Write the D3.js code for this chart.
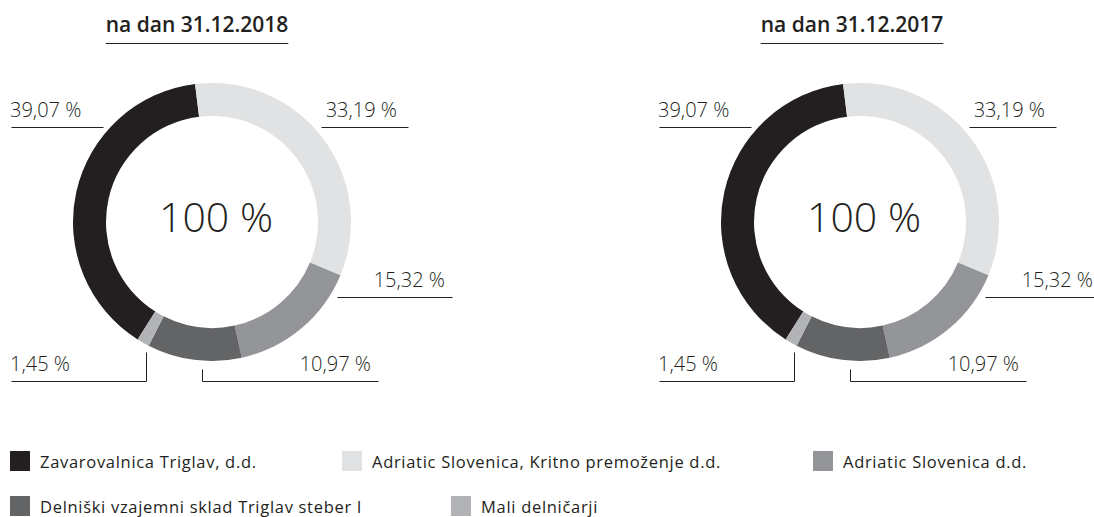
<!DOCTYPE html>
<html>
<head>
<meta charset="utf-8">
<script src="https://cdn.jsdelivr.net/npm/d3@7"></script>
<style>
  body { margin: 0; background: #fff; }
  text { font-family: "Open Sans", sans-serif; fill: #231f20; }
</style>
</head>
<body>
<script>
// data
var categories = ["Zavarovalnica Triglav, d.d.",
                  "Adriatic Slovenica, Kritno premoženje d.d.",
                  "Adriatic Slovenica d.d.",
                  "Delniški vzajemni sklad Triglav steber I",
                  "Mali delničarji"];
var shares2018 = [39.07, 33.19, 15.32, 10.97, 1.45];
var shares2017 = [39.07, 33.19, 15.32, 10.97, 1.45];
var panelTitles = ["na dan 31.12.2018", "na dan 31.12.2017"];
var totalLabel = "100 %";

var colors = ["#231f20", "#e1e2e3", "#939598", "#636466", "#b1b3b6"];

const WIDTH = 1094;
const HEIGHT = 517;
const OUTER = 139;
const INNER = 106;
const CY = 222;
const GAP = 8;

var panels = [
  {title: panelTitles[0], values: shares2018, cx: 212, titleDx: -15},
  {title: panelTitles[1], values: shares2017, cx: 860, titleDx: -8}
];

// where each slice's label sits, relative to the donut centre
var labelLayout = [
  {kind: 'h', side: -1, lineY: -95, lineTo: -201, textX: -202, textY: -105, anchor: 'start'},
  {kind: 'h', side: 1, lineY: -95, lineTo: 196, textX: 185, textY: -105, anchor: 'end'},
  {kind: 'h', side: 1, lineY: 75, lineTo: 240, textX: 233, textY: 65, anchor: 'end'},
  {kind: 'v', lineX: -10, lineY: 159, lineTo: 166, textX: 159, textY: 149, anchor: 'end'},
  {kind: 'v', lineX: -66, lineY: 159, lineTo: -201, textX: -202, textY: 149, anchor: 'start'}
];

var legendLayout = [
  {x: 10, y: 451}, {x: 342, y: 451}, {x: 813, y: 451},
  {x: 10, y: 496}, {x: 451, y: 496}
];

var fmt = function(v){
  return v.toFixed(2).replace('.', ',') + ' %';
};

var rad = function(deg){ return deg * Math.PI / 180; };

var svg = d3.select('body').append('svg')
  .attr('width', WIDTH)
  .attr('height', HEIGHT);

var arc = d3.arc().innerRadius(INNER).outerRadius(OUTER);

var drawPanel = function(p){
  // first slice ends just left of 12 o'clock
  var total = d3.sum(p.values);
  var start = rad(-7) - 2 * Math.PI * p.values[0] / total;
  var pie = d3.pie().sort(null).startAngle(start).endAngle(start + 2 * Math.PI);

  var g = svg.append('g').attr('transform', 'translate(' + p.cx + ',' + CY + ')');

  g.selectAll('path.slice')
    .data(pie(p.values))
    .enter()
    .append('path')
    .attr('class', 'slice')
    .attr('d', arc)
    .attr('fill', function(d, i){ return colors[i]; });

  g.append('text')
    .attr('x', 4)
    .attr('y', 10)
    .attr('text-anchor', 'middle')
    .style('font-size', '41px')
    .style('font-weight', 300)
    .text(totalLabel);

  // title + underline
  var title = svg.append('text')
    .attr('x', p.cx + p.titleDx)
    .attr('y', 32)
    .attr('text-anchor', 'middle')
    .style('font-size', '21px')
    .style('font-weight', 600)
    .text(p.title);
  var tw = title.node().getComputedTextLength();
  svg.append('line')
    .attr('x1', p.cx + p.titleDx - tw / 2)
    .attr('x2', p.cx + p.titleDx + tw / 2)
    .attr('y1', 43.5).attr('y2', 43.5)
    .attr('stroke', '#231f20');

  // leader lines and labels
  p.values.forEach(function(v, i){
    var L = labelLayout[i];
    var pts;
    if (L.kind === 'h') {
      var ex = L.side * (Math.sqrt(OUTER * OUTER - L.lineY * L.lineY) + GAP);
      pts = [[ex, L.lineY], [L.lineTo, L.lineY]];
    } else {
      var ey = Math.sqrt(OUTER * OUTER - L.lineX * L.lineX) + GAP;
      pts = [[L.lineX, ey], [L.lineX, L.lineY], [L.lineTo, L.lineY]];
    }
    g.append('path')
      .attr('d', d3.line()(pts.map(function(q){ return [Math.round(q[0]) + 0.5, Math.round(q[1]) + 0.5]; })))
      .attr('fill', 'none')
      .attr('stroke', '#231f20')
      .attr('stroke-width', 1);
    g.append('text')
      .attr('x', L.textX)
      .attr('y', L.textY)
      .attr('text-anchor', L.anchor)
      .style('font-size', '20px')
      .style('font-weight', 300)
      .text(fmt(v));
  });
};

panels.forEach(drawPanel);

// legend
var legend = svg.selectAll('g.legend')
  .data(categories)
  .enter()
  .append('g')
  .attr('class', 'legend')
  .attr('transform', function(d, i){ return 'translate(' + legendLayout[i].x + ',' + legendLayout[i].y + ')'; });

legend.append('rect')
  .attr('width', 20)
  .attr('height', 20)
  .attr('fill', function(d, i){ return colors[i]; });

legend.append('text')
  .attr('x', 30)
  .attr('y', 17)
  .style('font-size', '16.5px')
  .style('letter-spacing', '0.7px')
  .text(function(d){ return d; });
</script>
</body>
</html>
